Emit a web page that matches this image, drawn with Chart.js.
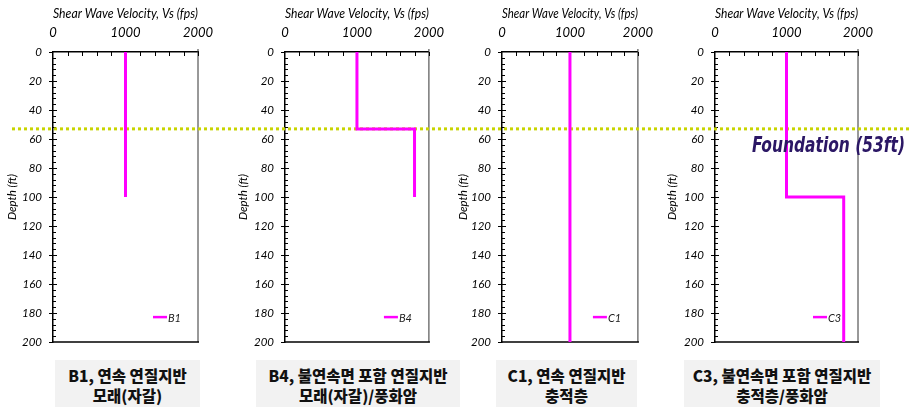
<!DOCTYPE html>
<html>
<head>
<meta charset="utf-8">
<script src="https://cdn.jsdelivr.net/npm/chart.js@4.4.1/dist/chart.umd.min.js"></script>
<style>
  body { margin: 0; background: #fff; width: 915px; height: 407px; overflow: hidden; position: relative; }
  canvas.panel { position: absolute; top: 0; }
  .cap {
    position: absolute; top: 360px; height: 47px; background: #f2f2f2;
    font-family: "Noto Sans CJK KR", sans-serif; font-weight: 900; font-size: 15.5px;
    line-height: 20px; text-align: center; color: #111; box-sizing: border-box; padding-top: 5px;
    white-space: nowrap;
  }
</style>
</head>
<body>
<canvas id="p1" class="panel"></canvas>
<canvas id="p2" class="panel"></canvas>
<canvas id="p3" class="panel"></canvas>
<canvas id="p4" class="panel"></canvas>
<div class="cap" style="left:55px;width:145px">B1, 연속 연질지반<br>모래(자갈)</div>
<div class="cap" style="left:256px;width:204px">B4, 불연속면 포함 연질지반<br>모래(자갈)/풍화암</div>
<div class="cap" style="left:496px;width:141px">C1, 연속 연질지반<br>충적층</div>
<div class="cap" style="left:684px;width:196px">C3, 불연속면 포함 연질지반<br>충적층/풍화암</div>
<script>
// profile data: shear wave velocity (fps) vs depth (ft)
const vsB1 = [1000, 1000];
const depthB1 = [0, 100];
const vsB4 = [1000, 1000, 1800, 1800];
const depthB4 = [0, 53, 53, 100];
const vsC1 = [1000, 1000];
const depthC1 = [0, 200];
const vsC3 = [1000, 1000, 1800, 1800];
const depthC3 = [0, 100, 100, 200];
const boreholes = ['B1', 'B4', 'C1', 'C3'];
const foundationDepth = 53;
const foundationLabel = 'Foundation (53ft)';

const series = { B1: [vsB1, depthB1], B4: [vsB4, depthB4], C1: [vsC1, depthC1], C3: [vsC3, depthC3] };

// page layout of each panel (canvas box and plot area edges)
const panels = [
    { id: 'p1', left: 4,   width: 231, areaLeft: 53,  areaRight: 198 },
    { id: 'p2', left: 235, width: 220, areaLeft: 285, areaRight: 430 },
    { id: 'p3', left: 455, width: 209, areaLeft: 502, areaRight: 647 },
    { id: 'p4', left: 664, width: 251, areaLeft: 715, areaRight: 858 }
];
const CANVAS_H = 356;

const FONT = 'Lato, "Open Sans", sans-serif';
const MAGENTA = '#ff00ff';

const decorPlugin = {
    id: 'decor',
    beforeDatasetsDraw(chart, args, o) {
        const ctx = chart.ctx;
        const { left, right, top, bottom } = chart.chartArea;
        const xs = chart.scales.x, ys = chart.scales.y;
        ctx.save();
        // right and bottom frame
        ctx.strokeStyle = '#333';
        ctx.lineWidth = 1;
        ctx.beginPath();
        ctx.moveTo(right, top - 3); ctx.lineTo(right, bottom);
        ctx.stroke();
        ctx.strokeStyle = '#000';
        ctx.lineWidth = 1.5;
        ctx.beginPath();
        ctx.moveTo(left, bottom); ctx.lineTo(right + 1, bottom);
        ctx.stroke();
        // inside ticks
        ctx.lineWidth = 1;
        ctx.beginPath();
        for (let v = 200; v <= 2000; v += 200) {
            const x = Math.round(xs.getPixelForValue(v)) + 0.5;
            ctx.moveTo(x, top); ctx.lineTo(x, top + 4);
        }
        for (let d = 4; d < 200; d += 4) {
            const y = Math.round(ys.getPixelForValue(d)) + 0.5;
            ctx.moveTo(left, y); ctx.lineTo(left + (d % 20 === 0 ? 4 : 3), y);
        }
        ctx.stroke();
        // foundation level line
        const fy = ys.getPixelForValue(foundationDepth);
        ctx.strokeStyle = '#c8d400';
        ctx.lineWidth = 3;
        ctx.setLineDash([3, 3]);
        ctx.lineDashOffset = o.pageLeft % 6;
        ctx.beginPath();
        ctx.moveTo(o.segStart, fy); ctx.lineTo(o.segEnd, fy);
        ctx.stroke();
        ctx.restore();
    },
    afterDatasetsDraw(chart, args, o) {
        const ctx = chart.ctx;
        const { right, bottom } = chart.chartArea;
        const ds = chart.data.datasets[0];
        ctx.save();
        // legend inside plot
        const ly = bottom - 25;
        ctx.strokeStyle = ds.borderColor;
        ctx.lineWidth = 2.5;
        ctx.beginPath();
        ctx.moveTo(right - 45, ly); ctx.lineTo(right - 31, ly);
        ctx.stroke();
        ctx.fillStyle = '#222';
        ctx.font = 'italic 11px ' + FONT;
        ctx.textBaseline = 'middle';
        ctx.fillText(ds.label, right - 30, ly + 1);
        // foundation annotation
        if (o.showLabel) {
            const fy = chart.scales.y.getPixelForValue(foundationDepth);
            ctx.font = 'italic bold 21px "DejaVu Sans", sans-serif';
            const w = ctx.measureText(foundationLabel).width;
            const target = 153;
            ctx.translate(o.labelRight - target, fy + 23);
            ctx.scale(target / w, 1);
            ctx.fillStyle = '#2b1765';
            ctx.textBaseline = 'alphabetic';
            ctx.fillText(foundationLabel, 0, 0);
        }
        ctx.restore();
    }
};

panels.forEach((p, i) => {
    const cv = document.getElementById(p.id);
    cv.width = p.width; cv.height = CANVAS_H;
    cv.style.left = p.left + 'px';
    cv.style.width = p.width + 'px'; cv.style.height = CANVAS_H + 'px';
    const name = boreholes[i];
    const [vs, depth] = series[name];
    const yWidth = p.areaLeft - p.left;
    const next = panels[i + 1];
    new Chart(cv, {
        type: 'scatter',
        data: {
            datasets: [{
                label: name,
                data: vs.map((v, k) => ({ x: v, y: depth[k] })),
                showLine: true,
                borderColor: MAGENTA,
                borderWidth: 3,
                pointRadius: 0,
                fill: false
            }]
        },
        options: {
            responsive: false,
            animation: false,
            layout: { padding: { left: 0, top: 0, right: p.left + p.width - p.areaRight, bottom: 0 } },
            plugins: {
                legend: { display: false },
                tooltip: { enabled: false },
                decor: {
                    pageLeft: p.left,
                    segStart: i === 0 ? 10 - p.left : 0,
                    segEnd: next ? next.left - p.left : 910 - p.left,
                    showLabel: i === 3,
                    labelRight: 905 - p.left
                }
            },
            scales: {
                x: {
                    type: 'linear', position: 'top', min: 0, max: 2000,
                    ticks: { stepSize: 1000, color: '#000', padding: 11, maxRotation: 0,
                             callback: v => String(v),
                             font: { family: FONT, style: 'italic', size: 13 } },
                    grid: { drawOnChartArea: false, drawTicks: false },
                    border: { color: '#000', width: 1.5 },
                    title: { display: true, text: 'Shear Wave Velocity, Vs (fps)', color: '#000',
                             font: { family: FONT, style: 'italic', size: 13.5 }, padding: { top: 6, bottom: 0 } },
                    afterFit(s) { s.height = 52; }
                },
                y: {
                    type: 'linear', reverse: true, min: 0, max: 200,
                    ticks: { stepSize: 20, color: '#000', padding: 7,
                             font: { family: FONT, style: 'italic', size: 11.5 } },
                    grid: { drawOnChartArea: false, tickLength: 4, color: '#000' },
                    border: { color: '#000', width: 1.5 },
                    title: { display: true, text: 'Depth (ft)', color: '#000',
                             font: { family: FONT, style: 'italic', size: 11.5 }, padding: { top: 1, bottom: 0 } },
                    afterFit(s) { s.width = yWidth; }
                }
            }
        },
        plugins: [decorPlugin]
    });
});
</script>
</body>
</html>
